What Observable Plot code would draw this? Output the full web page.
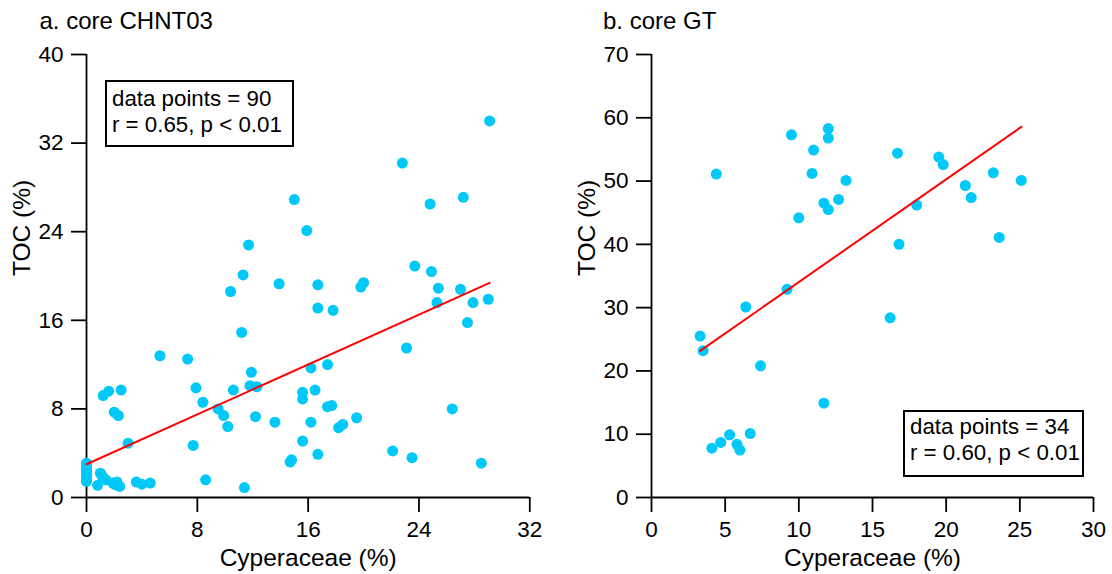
<!DOCTYPE html>
<html><head><meta charset="utf-8">
<script src="https://cdn.jsdelivr.net/npm/d3@7"></script>
<script src="https://cdn.jsdelivr.net/npm/@observablehq/plot@0.6"></script>
<style>
body{margin:0;background:#fff;font-family:"Liberation Sans",Arial,sans-serif}
#wrap{position:relative;width:1112px;height:574px;overflow:hidden}
.panel{position:absolute;top:0}
.stat{position:absolute;box-sizing:border-box;border:2px solid #000;font-size:22.3px;line-height:26px;color:#000;white-space:nowrap;background:#fff;font-family:"Liberation Sans",Arial,sans-serif}
</style></head><body>
<div id="wrap"></div>
<script>
// ---- panel a: core CHNT03 ----
const cypA = [29.1, 22.8, 15.0, 24.8, 27.2, 15.9, 11.7, 11.3, 23.7, 24.9,
  13.9, 16.7, 20.0, 19.8, 25.4, 27.0, 10.4, 25.3, 27.9, 29.0,
  16.7, 17.8, 27.5, 11.2, 23.1, 5.3, 7.3, 17.4, 16.2, 11.9,
  11.8, 12.3, 1.6, 1.2, 2.5, 7.9, 10.6, 15.6, 16.5, 15.6,
  8.4, 9.5, 9.9, 10.2, 2.0, 2.3, 12.2, 13.6, 16.2, 17.4,
  17.7, 19.5, 18.2, 18.5, 26.4, 3.0, 7.7, 15.6, 16.7, 14.7,
  14.8, 22.1, 23.5, 28.5, 8.6, 11.4,
  0, 0, 0, 0, 0, 0, 0, 0,
  0.8, 1.0, 1.1, 1.2, 1.4, 1.9, 2.2, 2.4, 2.1, 3.6, 4.0, 4.6];
const tocA = [34.0, 30.2, 26.9, 26.5, 27.1, 24.1, 22.8, 20.1, 20.9, 20.4,
  19.3, 19.2, 19.4, 19.0, 18.9, 18.8, 18.6, 17.6, 17.6, 17.9,
  17.1, 16.9, 15.8, 14.9, 13.5, 12.8, 12.5, 12.0, 11.7, 11.3,
  10.1, 10.0, 9.6, 9.2, 9.7, 9.9, 9.7, 9.5, 9.7, 8.9,
  8.6, 8.0, 7.4, 6.4, 7.7, 7.4, 7.3, 6.8, 6.8, 8.2,
  8.3, 7.2, 6.3, 6.6, 8.0, 4.9, 4.7, 5.1, 3.9, 3.2,
  3.4, 4.2, 3.6, 3.1, 1.6, 0.9,
  3.1, 2.9, 2.6, 2.35, 2.1, 1.85, 1.6, 1.45,
  1.1, 2.2, 2.0, 1.8, 1.6, 1.3, 1.4, 1.0, 1.15, 1.4, 1.2, 1.3];
const xTicksA = [0, 8, 16, 24, 32];
const yTicksA = [0, 8, 16, 24, 32, 40];
const fitA = {intercept: 3.0, slope: 0.563};
const statA = ["data points = 90", "r = 0.65, p < 0.01"];

// ---- panel b: core GT ----
const cypB = [4.4, 9.5, 12.0, 12.0, 11.0, 10.9, 13.2, 11.7, 12.0, 12.7,
  10.0, 16.7, 19.5, 19.8, 23.2, 25.1, 21.3, 21.7, 18.0, 16.8,
  23.6, 9.2, 6.4, 16.2, 3.3, 3.5, 7.4, 11.7, 5.3, 6.7,
  4.7, 4.1, 5.8, 6.0];
const tocB = [51.1, 57.3, 58.3, 56.8, 54.9, 51.2, 50.1, 46.5, 45.5, 47.1,
  44.2, 54.4, 53.8, 52.6, 51.3, 50.1, 49.3, 47.4, 46.2, 40.0,
  41.1, 32.9, 30.1, 28.4, 25.5, 23.2, 20.8, 14.9, 9.9, 10.1,
  8.7, 7.8, 8.4, 7.5];
const xTicksB = [0, 5, 10, 15, 20, 25, 30];
const yTicksB = [0, 10, 20, 30, 40, 50, 60, 70];
const fitB = {intercept: 17.8, slope: 1.624};
const statB = ["data points = 34", "r = 0.60, p < 0.01"];

const FONT = '"Liberation Sans", Arial, sans-serif';

function panel({cyp, toc, xTicks, yTicks, fit, title, marginLeft, marginRight, titleDx}) {
  const data = cyp.map((x, i) => ({x, y: toc[i]}));
  const ext = d3.extent(cyp);
  const fitLine = ext.map(x => ({x, y: fit.intercept + fit.slope * x}));
  const xDomain = d3.extent(xTicks), yDomain = d3.extent(yTicks);
  return Plot.plot({
    width: 556, height: 574,
    marginTop: 54, marginBottom: 77, marginLeft, marginRight,
    style: {fontFamily: FONT, fontSize: "22px", color: "#000", background: "transparent", overflow: "visible"},
    x: {domain: xDomain},
    y: {domain: yDomain},
    marks: [
      Plot.axisX({ticks: xTicks, tickSize: 15, tickPadding: 9, strokeWidth: 1.8, fontSize: 22.5, label: null}),
      Plot.axisY({ticks: yTicks, tickSize: 15, tickPadding: 8, strokeWidth: 1.8, fontSize: 22.5, label: null}),
      Plot.ruleY([yDomain[0]], {stroke: "#000", strokeWidth: 1.8}),
      Plot.ruleX([xDomain[0]], {stroke: "#000", strokeWidth: 1.8}),
      Plot.dot(data, {x: "x", y: "y", r: 5.5, fill: "#00c8f8", stroke: "none"}),
      Plot.line(fitLine, {x: "x", y: "y", stroke: "#ff0000", strokeWidth: 2}),
      Plot.text([title], {frameAnchor: "top-left", dx: titleDx, dy: -33, textAnchor: "start", lineAnchor: "middle", fontSize: 24}),
      Plot.text(["Cyperaceae (%)"], {frameAnchor: "bottom", dy: 61, lineAnchor: "middle", fontSize: 24.5}),
      Plot.text(["TOC (%)"], {frameAnchor: "left", dx: -64.5, rotate: -90, lineAnchor: "middle", fontSize: 24.5})
    ]
  });
}

const wrap = document.getElementById("wrap");
const pa = panel({cyp: cypA, toc: tocA, xTicks: xTicksA, yTicks: yTicksA, fit: fitA,
  title: "a. core CHNT03", marginLeft: 86, marginRight: 26.7, titleDx: -47});
pa.classList.add("panel"); pa.style.left = "0px";
wrap.appendChild(pa);
const pb = panel({cyp: cypB, toc: tocB, xTicks: xTicksB, yTicks: yTicksB, fit: fitB,
  title: "b. core GT", marginLeft: 95, marginRight: 19, titleDx: -48.5});
pb.classList.add("panel"); pb.style.left = "556px";
wrap.appendChild(pb);

function stat(lines, box) {
  const d = document.createElement("div");
  d.className = "stat";
  Object.assign(d.style, box);
  d.innerHTML = lines.map(s => `<div>${s.replace(/</g, "&lt;")}</div>`).join("");
  wrap.appendChild(d);
}
stat(statA, {left: "105px", top: "80px", width: "189px", height: "67px", padding: "4px 0 0 5px"});
stat(statB, {left: "903px", top: "410px", width: "181px", height: "67px", padding: "2px 0 0 5px"});
</script>
</body></html>
